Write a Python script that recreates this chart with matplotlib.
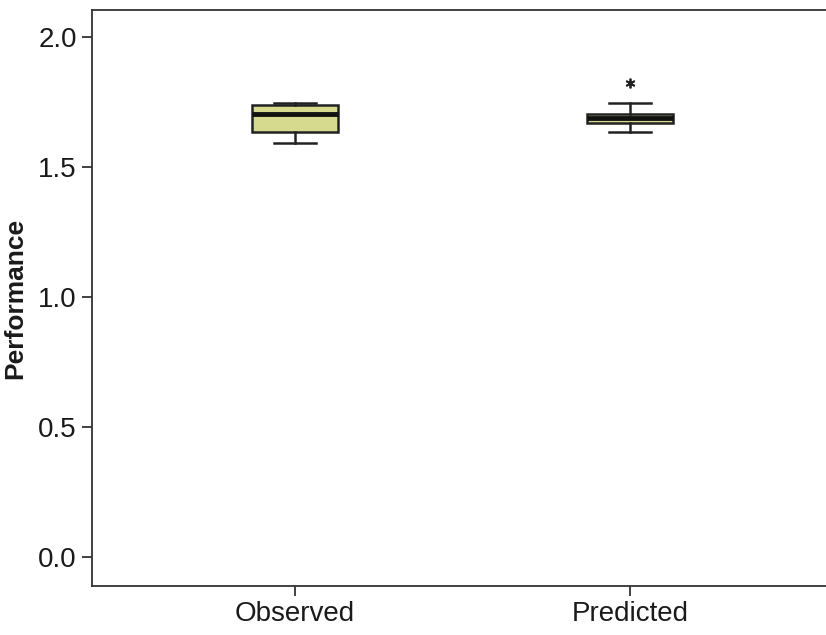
import matplotlib
matplotlib.use("Agg")
import matplotlib.pyplot as plt

# Five-number summaries for each group
categories = ["Observed", "Predicted"]
whisker_low = [1.592, 1.635]
q1 = [1.635, 1.669]
median = [1.703, 1.688]
q3 = [1.738, 1.704]
whisker_high = [1.746, 1.746]
outliers = [[], [1.823]]

FILL = "#d5da8e"

plt.rcParams["font.family"] = ["Liberation Sans", "DejaVu Sans"]

fig = plt.figure(figsize=(8.26, 6.35), dpi=100)
ax = fig.add_axes([0.1114, 0.0772, 0.897, 0.907])

stats = []
for i, name in enumerate(categories):
    stats.append({
        "label": name,
        "whislo": whisker_low[i],
        "q1": q1[i],
        "med": median[i],
        "q3": q3[i],
        "whishi": whisker_high[i],
        "fliers": outliers[i],
    })

ax.bxp(
    stats,
    positions=[1, 2],
    widths=0.255,
    patch_artist=True,
    boxprops=dict(facecolor=FILL, edgecolor="#222222", linewidth=1.8),
    medianprops=dict(color="#111111", linewidth=3.5),
    whiskerprops=dict(color="#222222", linewidth=1.8),
    capprops=dict(color="#222222", linewidth=1.8),
    capwidths=0.127,
    flierprops=dict(marker=(6, 2, 0), markersize=7, markeredgewidth=1.3,
                    markeredgecolor="#222222"),
)

ax.set_xlim(0.394, 2.606)
ax.set_ylim(-0.113, 2.104)
ax.set_yticks([0.0, 0.5, 1.0, 1.5, 2.0])
ax.set_yticklabels(["0.0", "0.5", "1.0", "1.5", "2.0"])
ax.set_xticks([1, 2])
ax.set_xticklabels(categories)

ax.tick_params(axis="both", labelsize=20, length=7, width=1.3, color="#333333",
               labelcolor="#1a1a1a", pad=4)
ax.set_ylabel("Performance", fontsize=19, fontweight="bold", color="#1a1a1a",
              labelpad=8)

for side in ["left", "bottom", "top"]:
    ax.spines[side].set_linewidth(1.3)
    ax.spines[side].set_color("#333333")
ax.spines["right"].set_visible(False)

fig.savefig("out.png", dpi=100)
